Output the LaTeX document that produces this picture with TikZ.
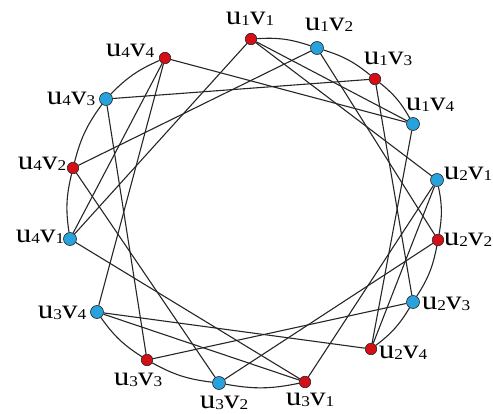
\documentclass[tikz,border=0pt]{standalone}
\usepackage{fontspec}
\setmainfont{Liberation Serif}
\definecolor{nred}{HTML}{D40F16}
\definecolor{nblue}{HTML}{27A2DD}
\newcommand{\subd}[1]{{\fontsize{15}{15}\selectfont\raisebox{-1pt}{#1}}}
\newcommand{\uvlab}[2]{\scalebox{1.15}[1]{u\subd{#1}v\subd{#2}}}
\begin{document}
\begin{tikzpicture}[x=1pt,y=-1pt,
  dot/.style={circle,draw=black!85,line width=0.6pt,inner sep=0pt,minimum size=#1},
  rdot/.style={dot=11.5pt,fill=nred},
  bdot/.style={dot=13pt,fill=nblue},
  edge/.style={line width=1.1pt,draw=black!85},
  lab/.style={font=\fontsize{27}{27}\selectfont,inner sep=0pt,anchor=base}]
\useasboundingbox (0,0) rectangle (493,414);
% vertices
\node[rdot] (n11) at (251,39) {};
\node[bdot] (n12) at (317,48) {};
\node[rdot] (n13) at (375,79) {};
\node[bdot] (n14) at (413,124) {};
\node[bdot] (n21) at (437,180) {};
\node[rdot] (n22) at (438,240) {};
\node[bdot] (n23) at (413,302) {};
\node[rdot] (n24) at (371,349) {};
\node[rdot] (n31) at (305,382) {};
\node[bdot] (n32) at (219,383) {};
\node[rdot] (n33) at (147,360) {};
\node[bdot] (n34) at (97,312) {};
\node[bdot] (n41) at (70,239) {};
\node[rdot] (n42) at (73,168) {};
\node[bdot] (n43) at (106,99) {};
\node[rdot] (n44) at (165,58) {};
% labels
\node[lab] (l11) at (250,25) {\uvlab{1}{1}};
\node[lab] (l12) at (329,31) {\uvlab{1}{2}};
\node[lab] (l13) at (388,65) {\uvlab{1}{3}};
\node[lab] (l14) at (430,111) {\uvlab{1}{4}};
\node[lab] (l21) at (468,180) {\uvlab{2}{1}};
\node[lab] (l22) at (468,246) {\uvlab{2}{2}};
\node[lab] (l23) at (446,310) {\uvlab{2}{3}};
\node[lab] (l24) at (403,359) {\uvlab{2}{4}};
\node[lab] (l31) at (310,405) {\uvlab{3}{1}};
\node[lab] (l32) at (224,408) {\uvlab{3}{2}};
\node[lab] (l33) at (138,385) {\uvlab{3}{3}};
\node[lab] (l34) at (62,319) {\uvlab{3}{4}};
\node[lab] (l41) at (40,243) {\uvlab{4}{1}};
\node[lab] (l42) at (42,170) {\uvlab{4}{2}};
\node[lab] (l43) at (71,105) {\uvlab{4}{3}};
\node[lab] (l44) at (130,57) {\uvlab{4}{4}};
% edges
\begin{scope}[edge]
\foreach \i in {1,2,3,4}{
  \draw (n\i1) to[bend left=11] (n\i2);
  \draw (n\i2) to[bend left=11] (n\i3);
  \draw (n\i3) to[bend left=11] (n\i4);
  \draw (n\i4) -- (n\i1);
}
\foreach \i/\k in {1/2,2/3,3/4,4/1}{
  \foreach \j in {1,2,3,4}{
    \draw (n\i\j) -- (n\k\j);
  }
}
\end{scope}
\end{tikzpicture}
\end{document}
